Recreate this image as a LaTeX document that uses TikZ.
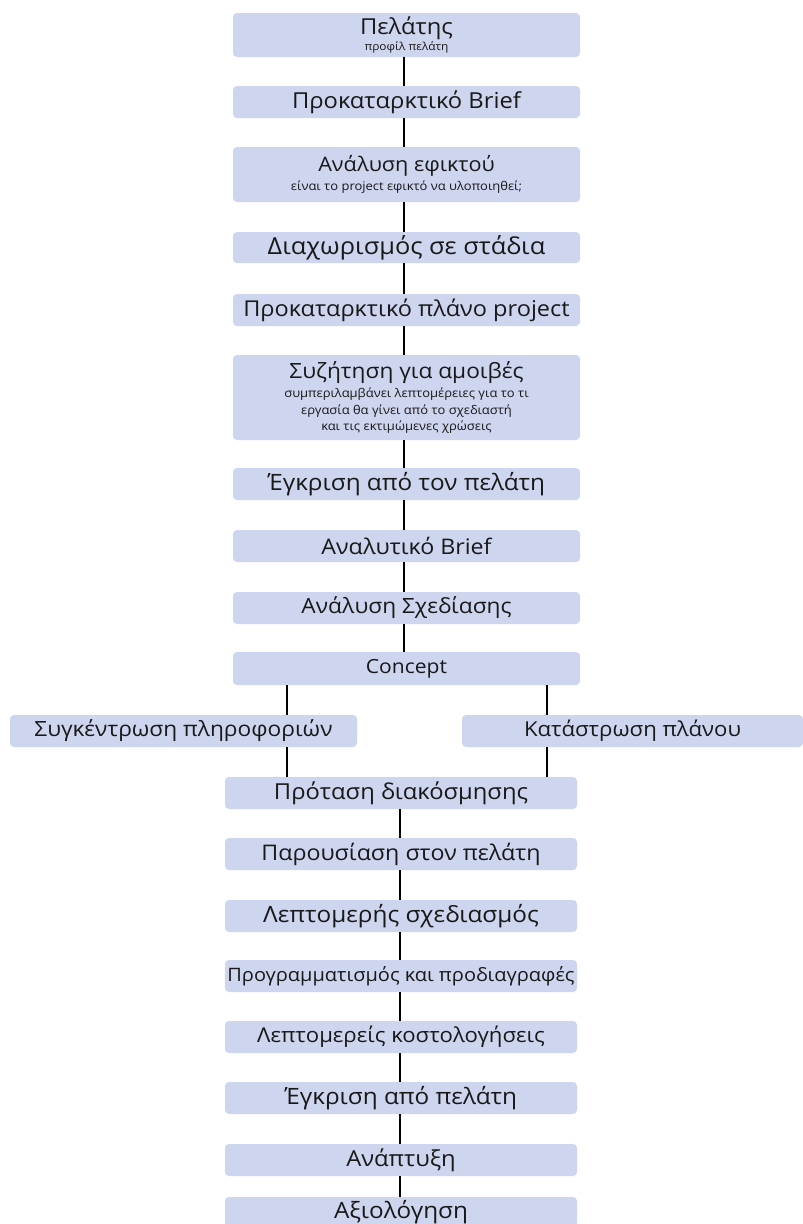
\documentclass[tikz,border=0pt]{standalone}
\usepackage{fontspec}
\setmainfont{Open Sans}[FakeStretch=1.08]
\definecolor{boxfill}{RGB}{206,213,238}
\definecolor{txt}{RGB}{25,25,25}
\tikzset{
  box/.style={fill=boxfill, rounded corners=4pt, inner sep=0pt, align=center, text=txt, minimum width=347pt},
  lowbox/.style={box, minimum width=352pt},
  conn/.style={draw=black, line width=2.8pt},
  connthin/.style={draw=black, line width=1.3pt},
}
\newcommand{\fz}[1]{\fontsize{#1}{#1}\selectfont}
\begin{document}
\begin{tikzpicture}[x=1pt,y=-1pt]
\useasboundingbox (0,0) rectangle (803,1224);
\fill[white] (0,0) rectangle (803,1224);
\node[box, minimum height=44pt] (n1) at (406.5,35) {{\fz{22}Πελάτης}\\[1pt]{\fz{11}προφίλ πελάτη}};
\node[box, minimum height=32pt] (n2) at (406.5,102) {\fz{22}Προκαταρκτικό Brief};
\node[box, minimum height=55pt] (n3) at (406.5,174.5) {{\fz{20}Ανάλυση εφικτού}\\[3pt]{\fz{12}είναι το project εφικτό να υλοποιηθεί;}};
\node[box, minimum height=31pt] (n4) at (406.5,247.5) {\fz{23.5}Διαχωρισμός σε στάδια};
\node[box, minimum height=32pt] (n5) at (406.5,310) {\fz{21.8}Προκαταρκτικό πλάνο project};
\node[box, minimum height=85pt] (n6) at (406.5,397.5) {{\fz{21}Συζήτηση για αμοιβές}\\[4pt]{\fz{12}συμπεριλαμβάνει λεπτομέρειες για το τι}\\[3pt]{\fz{12}εργασία θα γίνει από το σχεδιαστή}\\[3pt]{\fz{12}και τις εκτιμώμενες χρώσεις}};
\node[box, minimum height=32pt] (n7) at (406.5,484) {\fz{22.5}Έγκριση από τον πελάτη};
\node[box, minimum height=32pt] (n8) at (406.5,546) {\fz{21.5}Αναλυτικό Brief};
\node[box, minimum height=32pt] (n9) at (406.5,608) {\fz{21}Ανάλυση Σχεδίασης};
\node[box, minimum height=33pt] (n10) at (406.5,668.5) {\fz{19.5}Concept};
\node[box, minimum height=32pt] (n11) at (183.5,731) {\fz{21}Συγκέντρωση πληροφοριών};
\node[box, minimum width=341pt, minimum height=32pt] (n12) at (632.5,731) {\fz{20.5}Κατάστρωση πλάνου};
\node[lowbox, minimum height=32pt] (n13) at (401,793) {\fz{22}Πρόταση διακόσμησης};
\node[lowbox, minimum height=32pt] (n14) at (401,854) {\fz{21.5}Παρουσίαση στον πελάτη};
\node[lowbox, minimum height=32pt] (n15) at (401,916) {\fz{22.5}Λεπτομερής σχεδιασμός};
\node[lowbox, minimum height=32pt] (n16) at (401,976) {\fz{18.5}Προγραμματισμός και προδιαγραφές};
\node[lowbox, minimum height=32pt] (n17) at (401,1037) {\fz{20.5}Λεπτομερείς κοστολογήσεις};
\node[lowbox, minimum height=32pt] (n18) at (401,1098) {\fz{22.5}Έγκριση από πελάτη};
\node[lowbox, minimum height=32pt] (n19) at (401,1160) {\fz{22}Ανάπτυξη};
\node[lowbox, minimum height=30pt] (n20) at (401,1212) {\fz{22.5}Αξιολόγηση};
\coordinate (tx) at (404,0);
\coordinate (bx) at (400,0);
\coordinate (lx) at (287,0);
\coordinate (rx) at (547,0);
\draw[connthin] (n1.south -| tx) -- (n2.north -| tx);
\draw[conn] (n2.south -| tx) -- (n3.north -| tx);
\draw[conn] (n3.south -| tx) -- (n4.north -| tx);
\draw[conn] (n4.south -| tx) -- (n5.north -| tx);
\draw[conn] (n5.south -| tx) -- (n6.north -| tx);
\draw[conn] (n6.south -| tx) -- (n7.north -| tx);
\draw[conn] (n7.south -| tx) -- (n8.north -| tx);
\draw[conn] (n8.south -| tx) -- (n9.north -| tx);
\draw[connthin] (n9.south -| tx) -- (n10.north -| tx);
\draw[conn] (n10.south -| lx) -- (n11.north -| lx);
\draw[conn] (n10.south -| rx) -- (n12.north -| rx);
\draw[conn] (n11.south -| lx) -- (n13.north -| lx);
\draw[conn] (n12.south -| rx) -- (n13.north -| rx);
\draw[connthin] (n13.south -| bx) -- (n14.north -| bx);
\draw[conn] (n14.south -| bx) -- (n15.north -| bx);
\draw[conn] (n15.south -| bx) -- (n16.north -| bx);
\draw[conn] (n16.south -| bx) -- (n17.north -| bx);
\draw[conn] (n17.south -| bx) -- (n18.north -| bx);
\draw[conn] (n18.south -| bx) -- (n19.north -| bx);
\draw[conn] (n19.south -| bx) -- (n20.north -| bx);
\end{tikzpicture}
\end{document}
